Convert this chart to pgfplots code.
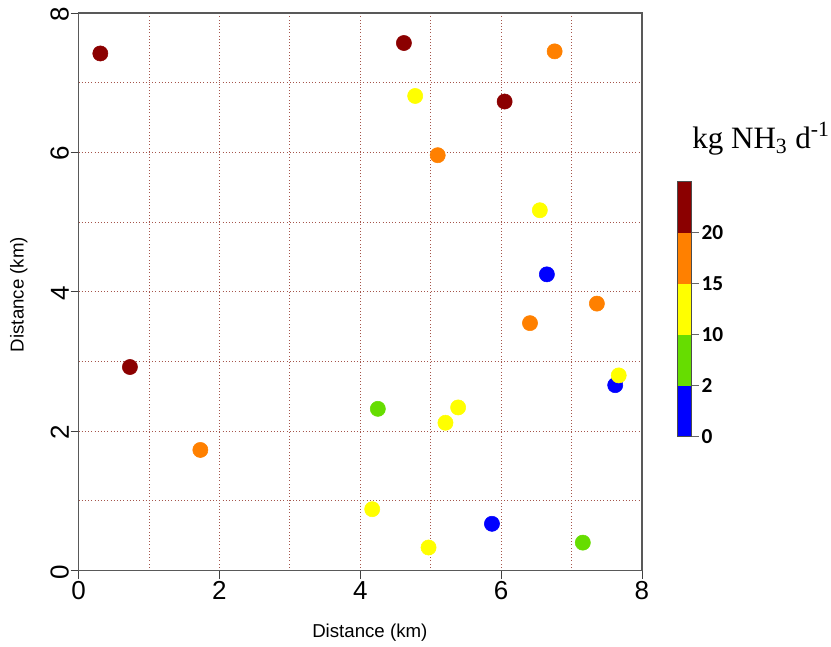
\documentclass[border=0pt]{standalone}
\usepackage{pgfplots}
\pgfplotsset{compat=1.18}
\usepackage{pgfplotstable}
\usepackage{fontspec}
\setmainfont{Liberation Sans}
\newfontfamily\seriffont{Liberation Serif}
\newfontfamily\calfont{Carlito}
\definecolor{cdred}{RGB}{139,0,0}
\definecolor{corange}{RGB}{255,128,0}
\definecolor{cyellow}{RGB}{255,255,0}
\definecolor{cgreen}{RGB}{102,221,0}
\definecolor{cblue}{RGB}{0,0,255}
\definecolor{cgrid}{RGB}{165,85,75}
\pgfplotstableread{
x y c
0.31 7.42 r
4.62 7.57 r
6.76 7.45 o
4.78 6.81 y
6.05 6.73 r
5.10 5.96 o
6.55 5.17 y
6.65 4.25 b
7.36 3.83 o
6.41 3.55 o
0.73 2.92 r
7.62 2.66 b
7.67 2.80 y
4.25 2.32 g
5.39 2.34 y
5.21 2.12 y
1.73 1.73 o
4.17 0.88 y
5.87 0.67 b
4.97 0.33 y
7.16 0.40 g
}\pts
\begin{document}
\begin{tikzpicture}[x=0.75pt,y=0.75pt]
\useasboundingbox (0,0) rectangle (831,646);
\begin{axis}[
  at={(58.875pt,56.625pt)}, anchor=south west,
  scale only axis, width=422.6pt, height=418.1pt,
  xmin=0, xmax=8, ymin=0, ymax=8,
  xtick={0,2,4,6,8}, ytick={0,2,4,6,8},
  minor xtick={1,3,5,7}, minor ytick={1,3,5,7},
  grid=both,
  major grid style={cgrid, dotted, line width=0.6pt},
  minor grid style={cgrid, dotted, line width=0.6pt},
  xtick pos=bottom, ytick pos=left,
  tick align=outside,
  major tick length=6pt, minor tick length=0pt,
  tick style={black!75, line width=0.6pt},
  axis line style={black!65, line width=1pt},
  /pgf/number format/assume math mode=true,
  ticklabel style={font=\fontsize{19.5}{20}\selectfont},
  xticklabel style={inner sep=1pt, yshift=-1pt},
  yticklabel style={rotate=90, anchor=south, inner sep=1pt, xshift=-1pt},
  xlabel={Distance (km)},
  ylabel={Distance (km)},
  label style={font=\fontsize{14}{14}\selectfont},
  xlabel style={at={(axis description cs:0.517,-0.121)}, anchor=base},
  ylabel style={at={(axis description cs:-0.106,0.495)}, rotate=0, anchor=center},
]
\addplot[scatter, only marks, scatter src=explicit symbolic,
  scatter/classes={
    r={mark=*, mark size=5.7pt, draw=cdred, fill=cdred},
    o={mark=*, mark size=5.7pt, draw=corange, fill=corange},
    y={mark=*, mark size=5.7pt, draw=cyellow, fill=cyellow},
    g={mark=*, mark size=5.7pt, draw=cgreen, fill=cgreen},
    b={mark=*, mark size=5.7pt, draw=cblue, fill=cblue}}]
  table[x=x, y=y, meta=c]{\pts};
\end{axis}
\begin{axis}[
  at={(508.275pt,156.975pt)}, anchor=south west,
  scale only axis, width=10.5pt, height=191.25pt,
  xmin=0, xmax=1, ymin=0, ymax=5,
  xtick=\empty, ytick={0,1,2,3,4}, yticklabels={0,2,10,15,20},
  ytick pos=right, yticklabel pos=right,
  tick align=outside, major tick length=5.25pt,
  tick style={black!60, line width=0.6pt},
  axis line style={black!70, line width=0.5pt},
  axis on top,
  yticklabel style={font=\calfont\bfseries\fontsize{16}{16}\selectfont, inner sep=2pt},
]
\addplot[fill=cblue, draw=none] coordinates {(0,0) (1,0) (1,1) (0,1)} -- cycle;
\addplot[fill=cgreen, draw=none] coordinates {(0,1) (1,1) (1,2) (0,2)} -- cycle;
\addplot[fill=cyellow, draw=none] coordinates {(0,2) (1,2) (1,3) (0,3)} -- cycle;
\addplot[fill=corange, draw=none] coordinates {(0,3) (1,3) (1,4) (0,4)} -- cycle;
\addplot[fill=cdred, draw=none] coordinates {(0,4) (1,4) (1,5) (0,5)} -- cycle;
\end{axis}
\node[anchor=base west, font=\seriffont\fontsize{23.3}{23.3}\selectfont, inner sep=0pt] at (692,497) {kg NH\textsubscript{3} d\textsuperscript{-1}};
\end{tikzpicture}
\end{document}
